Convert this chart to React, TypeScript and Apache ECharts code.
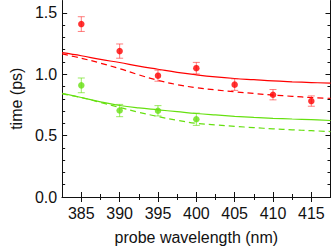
import React, { useEffect, useRef } from "react";
import * as echarts from "echarts";

const wavelengths = [385, 390, 395, 400, 405, 410, 415];
const redTimes = [1.408, 1.188, 0.988, 1.049, 0.915, 0.833, 0.781];
const redErrors = [0.06, 0.058, 0.045, 0.047, 0.047, 0.042, 0.042];

const greenWavelengths = [385, 390, 395, 400];
const greenTimes = [0.909, 0.704, 0.702, 0.633];
const greenErrors = [0.06, 0.05, 0.042, 0.05];

const fitWavelengths = [382.5, 385, 387.5, 390, 392.5, 395, 397.5, 400, 402.5, 405, 407.5, 410, 412.5, 415, 417.5];
const redSolidFit = [1.175, 1.15, 1.12, 1.095, 1.065, 1.04, 1.015, 0.995, 0.978, 0.965, 0.955, 0.945, 0.938, 0.932, 0.927];
const redDashedFit = [1.165, 1.13, 1.09, 1.045, 0.995, 0.95, 0.915, 0.89, 0.872, 0.857, 0.843, 0.83, 0.82, 0.81, 0.803];
const greenSolidFit = [0.845, 0.81, 0.775, 0.745, 0.725, 0.71, 0.695, 0.68, 0.668, 0.657, 0.648, 0.641, 0.635, 0.63, 0.623];
const greenDashedFit = [0.84, 0.81, 0.77, 0.73, 0.69, 0.655, 0.625, 0.6, 0.587, 0.575, 0.565, 0.555, 0.547, 0.54, 0.533];

const xMajorTicks = [385, 390, 395, 400, 405, 410, 415];
const xMinorTicks = [387.5, 392.5, 397.5, 402.5, 407.5, 412.5];
const yMajorTicks = [0, 0.5, 1.0, 1.5];
const yMinorTicks = [0.1, 0.2, 0.3, 0.4, 0.6, 0.7, 0.8, 0.9, 1.1, 1.2, 1.3, 1.4];

const RED = "#ff0000";
const RED_ERR = "rgba(255,40,40,0.6)";
const GREEN = "#66e010";
const GREEN_ERR = "rgba(102,224,16,0.65)";
const FONT = "'Liberation Sans', Arial, sans-serif";
const INK = "#111";

function errorBarSeries(xs: number[], ys: number[], es: number[], color: string) {
  return {
    type: "custom",
    xAxisIndex: 0,
    yAxisIndex: 0,
    data: xs.map((x, i) => [x, ys[i], es[i]]),
    encode: { x: 0, y: 1 },
    z: 3,
    renderItem: (params: any, api: any) => {
      const x = api.value(0);
      const y = api.value(1);
      const e = api.value(2);
      const top = api.coord([x, y + e]);
      const bot = api.coord([x, y - e]);
      const hw = 3.5;
      const style = { stroke: color, lineWidth: 1, fill: "none" };
      return {
        type: "group",
        children: [
          { type: "line", shape: { x1: top[0], y1: top[1], x2: bot[0], y2: bot[1] }, style },
          { type: "line", shape: { x1: top[0] - hw, y1: top[1], x2: top[0] + hw, y2: top[1] }, style },
          { type: "line", shape: { x1: bot[0] - hw, y1: bot[1], x2: bot[0] + hw, y2: bot[1] }, style },
        ],
      };
    },
  };
}

function fitSeries(ys: number[], color: string, dashed: boolean) {
  return {
    type: "line",
    xAxisIndex: 0,
    yAxisIndex: 0,
    data: fitWavelengths.map((x, i) => [x, ys[i]]),
    smooth: 0.4,
    showSymbol: false,
    symbol: "none",
    lineStyle: { color, width: 1.2, type: dashed ? [6, 4] : "solid" },
    z: 2,
  };
}

function pointSeries(xs: number[], ys: number[], color: string) {
  return {
    type: "scatter",
    xAxisIndex: 0,
    yAxisIndex: 0,
    data: xs.map((x, i) => [x, ys[i]]),
    symbol: "circle",
    symbolSize: 6.5,
    itemStyle: { color },
    z: 4,
  };
}

function xAxisDef(position: "top" | "bottom", ticks: number[], len: number, main: boolean, labels: boolean) {
  return {
    type: "value",
    position,
    min: 382.5,
    max: 417.5,
    axisLine: { show: main, lineStyle: { color: INK, width: 1 } },
    axisTick: { show: true, inside: true, length: len, customValues: ticks, lineStyle: { color: INK, width: 1 } },
    axisLabel: labels
      ? { show: true, customValues: ticks, margin: 8, color: INK, fontSize: 16, fontFamily: FONT, formatter: (v: number) => String(v) }
      : { show: false },
    splitLine: { show: false },
    ...(labels
      ? {
          name: "probe wavelength (nm)",
          nameLocation: "middle",
          nameGap: 32,
          nameTextStyle: { color: INK, fontSize: 16, fontFamily: FONT },
        }
      : {}),
  };
}

function yAxisDef(position: "left" | "right", ticks: number[], len: number, main: boolean, labels: boolean) {
  return {
    type: "value",
    position,
    min: 0,
    max: 1.6,
    axisLine: { show: main, lineStyle: { color: INK, width: 1 } },
    axisTick: { show: true, inside: true, length: len, customValues: ticks, lineStyle: { color: INK, width: 1 } },
    axisLabel: labels
      ? { show: true, customValues: ticks, margin: 5, color: INK, fontSize: 16, fontFamily: FONT, formatter: (v: number) => v.toFixed(1) }
      : { show: false },
    splitLine: { show: false },
    ...(labels
      ? {
          name: "time (ps)",
          nameLocation: "middle",
          nameRotate: 90,
          nameGap: 37,
          nameTextStyle: { color: INK, fontSize: 16, fontFamily: FONT },
        }
      : {}),
  };
}

export default function App() {
  const ref = useRef<HTMLDivElement>(null);
  useEffect(() => {
    if (!ref.current) return;
    const chart = echarts.init(ref.current, null, { renderer: "svg" });
    chart.setOption({
      animation: false,
      grid: { left: 57.5, right: 1.5, top: 0.5, bottom: 47.5, containLabel: false },
      xAxis: [
        xAxisDef("bottom", xMajorTicks, 5, true, true),
        xAxisDef("bottom", xMinorTicks, 3, false, false),
        xAxisDef("top", xMajorTicks, 5, true, false),
        xAxisDef("top", xMinorTicks, 3, false, false),
      ],
      yAxis: [
        yAxisDef("left", yMajorTicks, 5, true, true),
        yAxisDef("left", yMinorTicks, 3, false, false),
        yAxisDef("right", yMajorTicks, 5, true, false),
        yAxisDef("right", yMinorTicks, 3, false, false),
      ],
      series: [
        fitSeries(redSolidFit, RED, false),
        fitSeries(redDashedFit, RED, true),
        fitSeries(greenSolidFit, GREEN, false),
        fitSeries(greenDashedFit, GREEN, true),
        errorBarSeries(wavelengths, redTimes, redErrors, RED_ERR),
        errorBarSeries(greenWavelengths, greenTimes, greenErrors, GREEN_ERR),
        pointSeries(wavelengths, redTimes, RED),
        pointSeries(greenWavelengths, greenTimes, GREEN),
      ],
    });
    return () => chart.dispose();
  }, []);
  return (
    <div
      ref={ref}
      style={{ position: "fixed", left: 0, top: 0, width: 332, height: 250, background: "#fff" }}
    />
  );
}
